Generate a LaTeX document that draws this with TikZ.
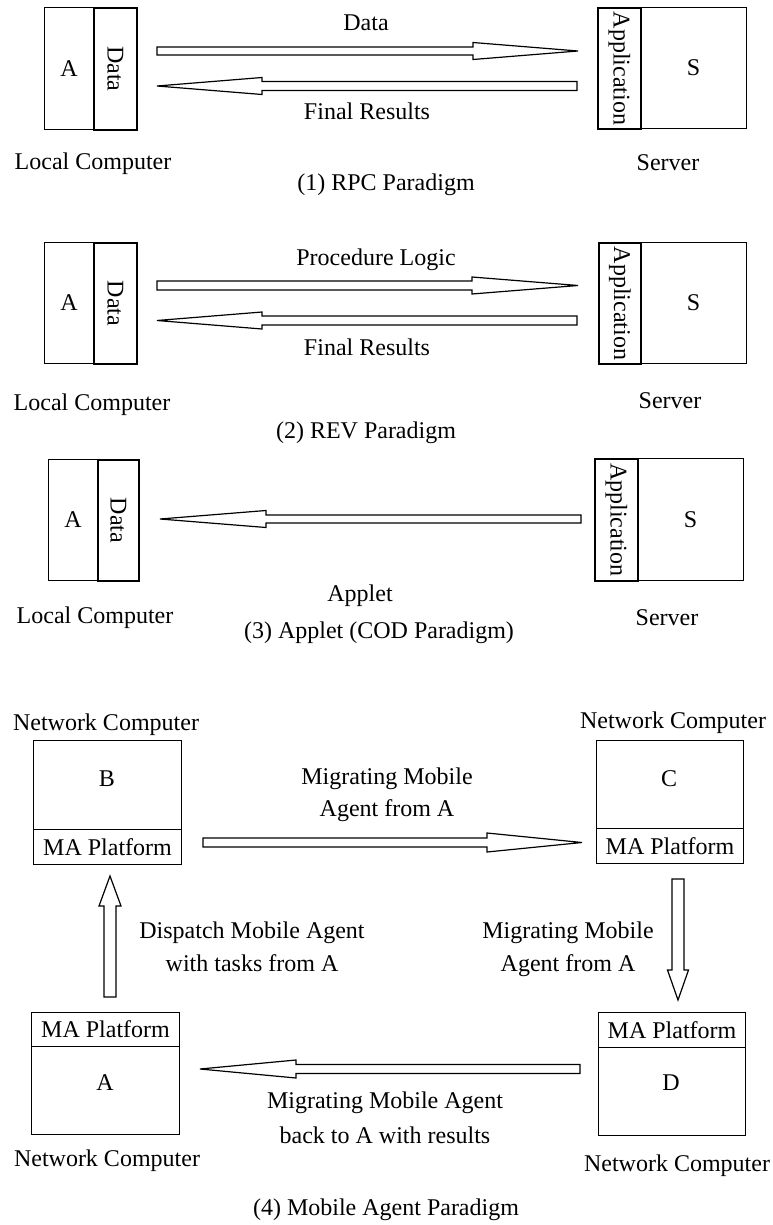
\documentclass[tikz,border=0pt]{standalone}
\usepackage{fontspec}
\setmainfont{Liberation Serif}
\newcommand\harr[6]{% tail x, head base x, tip x, y, shaft half, head half
  \draw[barrow] (#1,{#4-#5}) -- (#2,{#4-#5}) -- (#2,{#4-#6}) -- (#3,#4) -- (#2,{#4+#6}) -- (#2,{#4+#5}) -- (#1,{#4+#5}) -- cycle;}
\newcommand\varr[6]{% tail y, head base y, tip y, x, shaft half, head half
  \draw[barrow] ({#4-#5},#1) -- ({#4-#5},#2) -- ({#4-#6},#2) -- (#4,#3) -- ({#4+#6},#2) -- ({#4+#5},#2) -- ({#4+#5},#1) -- cycle;}
\begin{document}
\begin{tikzpicture}[x=1pt,y=-1pt,line join=miter,
  every node/.style={font=\fontsize{24}{28}\selectfont},
  thinbox/.style={draw,line width=1.1pt,inner sep=0pt,anchor=north west},
  thickbox/.style={draw,line width=1.8pt,inner sep=0pt,anchor=north west},
  lbl/.style={anchor=base,inner sep=0pt},
  barrow/.style={draw,line width=1.2pt,fill=white}]
\useasboundingbox (0,0) rectangle (772,1225);

% ---------- (1) RPC ----------
\node[thinbox,minimum width=49pt,minimum height=122pt] (a1) at (44,7) {A};
\node[thickbox,minimum width=43pt,minimum height=122pt] (d1) at (93,7) {\rotatebox{-90}{Data}};
\node[thinbox,minimum width=106pt,minimum height=121pt] (s1) at (640,7) {S};
\node[thickbox,minimum width=43pt,minimum height=121pt] (p1) at (597,7) {\rotatebox{-90}{Application}};
\harr{157}{473}{578}{51}{4}{8.5}
\harr{577}{262}{157}{86}{4.5}{8.5}
\node[lbl] (l1a) at (366,31) {Data};
\node[lbl] (l1b) at (367,120) {Final Results};
\node[lbl] (l1c) at (93,170) {Local Computer};
\node[lbl] (l1d) at (668,171) {Server};
\node[lbl] (l1e) at (386,190) {(1) RPC Paradigm};

% ---------- (2) REV ----------
\node[thinbox,minimum width=49pt,minimum height=121pt] (a2) at (44,242) {A};
\node[thickbox,minimum width=43pt,minimum height=121pt] (d2) at (93,242) {\rotatebox{-90}{Data}};
\node[thinbox,minimum width=106pt,minimum height=121pt] (s2) at (640,242) {S};
\node[thickbox,minimum width=42pt,minimum height=121pt] (p2) at (598,242) {\rotatebox{-90}{Application}};
\harr{157}{472}{578}{285.5}{4.5}{8.5}
\harr{577}{262}{157}{320.5}{4.5}{8.5}
\node[lbl] (l2a) at (376,265) {Procedure Logic};
\node[lbl] (l2b) at (367,355) {Final Results};
\node[lbl] (l2c) at (92,410) {Local Computer};
\node[lbl] (l2d) at (670,408) {Server};
\node[lbl] (l2e) at (366,438) {(2) REV Paradigm};

% ---------- (3) Applet ----------
\node[thinbox,minimum width=49pt,minimum height=121pt] (a3) at (48,459) {A};
\node[thickbox,minimum width=41pt,minimum height=121pt] (d3) at (97,459) {\rotatebox{-90}{Data}};
\node[thinbox,minimum width=106pt,minimum height=122pt] (s3) at (637,458) {S};
\node[thickbox,minimum width=43pt,minimum height=122pt] (p3) at (594,458) {\rotatebox{-90}{Application}};
\harr{581}{266}{160}{519}{4}{8.5}
\node[lbl] (l3a) at (360,601) {Applet};
\node[lbl] (l3c) at (95,623) {Local Computer};
\node[lbl] (l3d) at (667,625) {Server};
\node[lbl] (l3e) at (379,638) {(3) Applet (COD Paradigm)};

% ---------- (4) Mobile Agent ----------
\node[thinbox,minimum width=148pt,minimum height=89pt] (b) at (33,740) {};
\node[thinbox,minimum width=148pt,minimum height=35pt] (bp) at (33,829) {MA Platform};
\node (bl) at (107,779) {B};
\node[thinbox,minimum width=147pt,minimum height=88pt] (c) at (596,740) {};
\node[thinbox,minimum width=147pt,minimum height=35pt] (cp) at (596,828) {MA Platform};
\node (cl) at (669,779) {C};
\node[thinbox,minimum width=147pt,minimum height=35pt] (dp) at (598,1012) {MA Platform};
\node[thinbox,minimum width=147pt,minimum height=88pt] (d) at (598,1047) {};
\node (dl) at (671,1083) {D};
\node[thinbox,minimum width=148pt,minimum height=34pt] (ap) at (31,1012) {MA Platform};
\node[thinbox,minimum width=148pt,minimum height=88pt] (a) at (31,1046) {};
\node (al) at (105,1083) {A};

\harr{203}{487}{582}{842.5}{4.5}{9.5}
\varr{879}{970}{1000}{678}{6}{10.5}
\harr{580}{296}{200}{1069}{4.5}{9}
\varr{997}{906}{876}{110}{6}{11}

\node[lbl] (n1) at (106,730) {Network Computer};
\node[lbl] (n2) at (673,728) {Network Computer};
\node[lbl] (m1) at (387,784) {Migrating Mobile};
\node[lbl] (m2) at (387,816) {Agent from A};
\node[lbl] (m3) at (252,938) {Dispatch Mobile Agent};
\node[lbl] (m4) at (252,971) {with tasks from A};
\node[lbl] (m5) at (568,938) {Migrating Mobile};
\node[lbl] (m6) at (568,971) {Agent from A};
\node[lbl] (m7) at (385,1108) {Migrating Mobile Agent};
\node[lbl] (m8) at (385,1143) {back to A with results};
\node[lbl] (n3) at (107,1166) {Network Computer};
\node[lbl] (n4) at (677,1171) {Network Computer};
\node[lbl] (t4) at (386,1215) {(4) Mobile Agent Paradigm};
\end{tikzpicture}
\end{document}
